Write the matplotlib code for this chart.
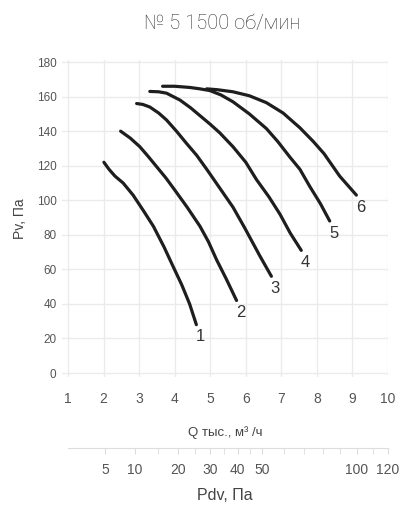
import numpy as np
import matplotlib
matplotlib.use('Agg')
import matplotlib.pyplot as plt
from matplotlib.ticker import FixedLocator, NullFormatter

# кривые вентилятора: Q тыс. м3/ч, Pv Па
q1 = [2.01, 2.15, 2.32, 2.55, 2.83, 3.12, 3.40, 3.70, 3.96, 4.20, 4.42, 4.61]
p1 = [122, 118, 114, 110, 103, 94, 85, 73, 61.5, 51, 40, 28]
q2 = [2.48, 2.75, 3.02, 3.25, 3.49, 3.75, 4.0, 4.35, 4.71, 4.95, 5.18, 5.45, 5.74]
p2 = [140, 136, 131, 125.5, 119.5, 113, 106, 96, 85, 76, 65.5, 54.5, 42]
q3 = [2.93, 3.10, 3.30, 3.55, 3.77, 4.05, 4.33, 4.62, 4.90, 5.27, 5.64, 5.97, 6.39, 6.72]
p3 = [156, 155.5, 154, 150.5, 146.5, 140, 133, 126, 118, 107, 96, 84, 68, 56]
q4 = [3.30, 3.55, 3.77, 4.15, 4.45, 4.71, 5.0, 5.27, 5.64, 6.0, 6.30, 6.65, 6.96, 7.25, 7.56]
p4 = [163, 162.8, 162, 158, 153.5, 149, 144, 139, 131, 122, 112, 102, 92, 81, 71]
q5 = [3.66, 4.0, 4.43, 4.71, 4.99, 5.3, 5.64, 6.1, 6.58, 6.9, 7.24, 7.52, 7.8, 8.1, 8.36]
p5 = [166, 166, 165.3, 164.5, 163.5, 161, 157, 150, 141.5, 134, 125, 118, 108, 98, 88]
q6 = [4.9, 5.2, 5.64, 6.1, 6.58, 7.05, 7.52, 7.9, 8.2, 8.64, 9.11]
p6 = [164.5, 164, 162.8, 160.5, 156.5, 150.5, 142, 134, 127, 114, 103]
curves = [(q1, p1), (q2, p2), (q3, p3), (q4, p4), (q5, p5), (q6, p6)]
curve_labels = ['1', '2', '3', '4', '5', '6']

x_ticks = [1, 2, 3, 4, 5, 6, 7, 8, 9, 10]
y_ticks = [0, 20, 40, 60, 80, 100, 120, 140, 160, 180]

# шкала динамического давления Pdv = 1.2 * Q^2
pdv_major = [5, 10, 20, 30, 40, 50, 100, 120]
pdv_minor = [15, 25, 35, 45, 60, 70, 80, 90, 110]
pdv_k = 1.2

W, H = 412, 505
fig = plt.figure(figsize=(W / 100, H / 100), dpi=100)

def px_rect(l, t, r, b):
    return [l / W, 1 - b / H, (r - l) / W, (b - t) / H]

ax = fig.add_axes(px_rect(62, 60, 388, 377))
ax.set_xlim(0.831, 10.0)
ax.set_ylim(-2.3, 181.2)
ax.set_xticks(x_ticks)
ax.set_yticks(y_ticks)
ax.grid(True, color='#ebebeb', linewidth=1.0)
ax.set_axisbelow(True)
for s in ax.spines.values():
    s.set_visible(False)
ax.tick_params(axis='both', length=0, colors='#555555')
ax.tick_params(axis='x', labelsize=10, pad=11)
ax.tick_params(axis='y', labelsize=8.5, pad=4)
for lab in ax.get_xticklabels() + ax.get_yticklabels():
    lab.set_family('Liberation Sans')

for (q, p), name in zip(curves, curve_labels):
    ax.plot(q, p, color='#1e1e1e', linewidth=2.3, solid_capstyle='round',
            solid_joinstyle='round')
    ax.annotate(name, (q[-1], p[-1]), xytext=(4, -12), textcoords='offset pixels',
                ha='center', va='center', fontsize=12, color='#333333',
                family='Liberation Sans')

ax.set_ylabel('Pv, Па', fontsize=10, color='#444444', family='Liberation Sans',
              labelpad=7)
ax.set_xlabel('Q тыс., м³ /ч', fontsize=9.5, color='#444444',
              family='Liberation Sans', labelpad=14)

# вторая ось Pdv
ax2 = fig.add_axes(px_rect(62, 448, 388, 448))
ax2.set_xlim(ax.get_xlim())
ax2.set_yticks([])
ax2.patch.set_visible(False)
for side in ['top', 'left', 'right']:
    ax2.spines[side].set_visible(False)
ax2.spines['bottom'].set_color('#dddddd')
ax2.spines['bottom'].set_bounds(1, 10)
ax2.xaxis.set_major_locator(FixedLocator([np.sqrt(v / pdv_k) for v in pdv_major]))
ax2.xaxis.set_minor_locator(FixedLocator([np.sqrt(v / pdv_k) for v in pdv_minor]))
ax2.set_xticklabels([str(v) for v in pdv_major])
ax2.xaxis.set_minor_formatter(NullFormatter())
ax2.tick_params(axis='x', which='both', length=4, color='#dddddd',
                colors='#555555', labelsize=10, pad=7)
for lab in ax2.get_xticklabels():
    lab.set_family('Liberation Sans')

fig.text(225 / W, 1 - 496 / H, 'Pdv, Па', ha='center', va='center',
         fontsize=11.5, color='#444444', family='Liberation Sans')

fig.text(222 / W, 1 - 24 / H, '№ 5 1500 об/мин', ha='center', va='center',
         fontsize=14.5, color='#333333', family='Roboto', fontweight='light')

fig.savefig('out.png', dpi=100)
